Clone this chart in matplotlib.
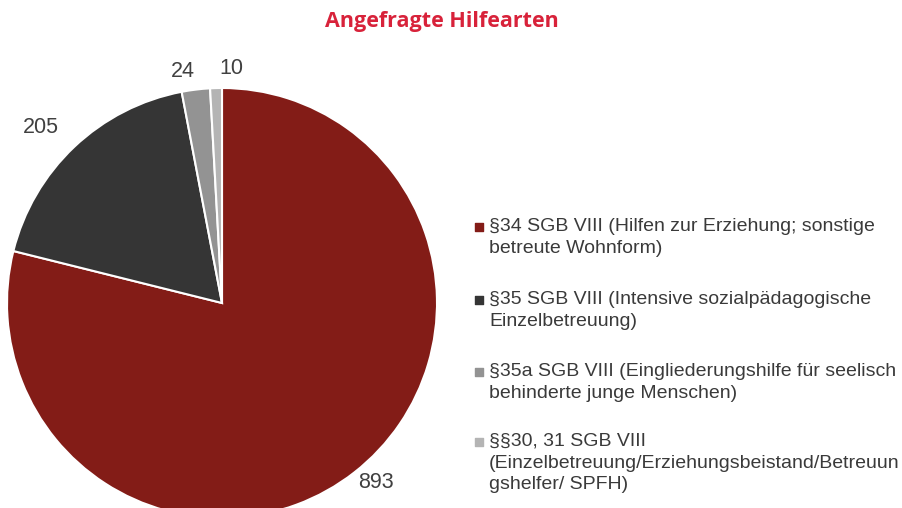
import numpy as np
import matplotlib
matplotlib.use("Agg")
import matplotlib.pyplot as plt

# Daten
werte = [893, 205, 24, 10]
kategorien = [
    "§34 SGB VIII (Hilfen zur Erziehung; sonstige\nbetreute Wohnform)",
    "§35 SGB VIII (Intensive sozialpädagogische\nEinzelbetreuung)",
    "§35a SGB VIII (Eingliederungshilfe für seelisch\nbehinderte junge Menschen)",
    "§§30, 31 SGB VIII\n(Einzelbetreuung/Erziehungsbeistand/Betreuun\ngshelfer/ SPFH)",
]
farben = ["#831c17", "#353535", "#939393", "#b4b4b4"]
titel = "Angefragte Hilfearten"

W, H = 902, 508
fig = plt.figure(figsize=(W / 100, H / 100), dpi=100)

# Kreisdiagramm (Mitte ~ (222, 303) px, Radius ~ 215 px)
cx, cy, r = 222, 303, 215
ax = fig.add_axes([(cx - r) / W, (H - cy - r) / H, 2 * r / W, 2 * r / H])
wedges, _ = ax.pie(
    werte,
    colors=farben,
    startangle=90,
    counterclock=False,
    wedgeprops=dict(edgecolor="white", linewidth=1.5),
)
ax.set_xlim(-1, 1)
ax.set_ylim(-1, 1)
ax.set_aspect("equal")
ax.axis("off")

# Werte an den Segmenten (kleine Winkelkorrektur damit 24 und 10 nicht kleben)
abstand = [1.10, 1.17, 1.09, 1.09]
versatz = [2.5, 2.5, 2.5, -3.8]
for w, v, d, dw in zip(wedges, werte, abstand, versatz):
    mitte = np.deg2rad((w.theta1 + w.theta2) / 2 + dw)
    ax.text(d * np.cos(mitte), d * np.sin(mitte), str(v),
            ha="center", va="center", fontsize=15.5,
            color="#404040", family="Liberation Sans", clip_on=False)

# Titel
fig.text(442 / W, 1 - 21 / H, titel, ha="center", va="center",
         fontsize=15.5, fontweight="bold", color="#d8223a", family="Open Sans")

# Legende (manuell, Quadrat an der ersten Zeile)
leg = fig.add_axes([0, 0, 1, 1])
leg.set_xlim(0, W)
leg.set_ylim(H, 0)
leg.axis("off")
zeilen_y = [227, 300, 372, 442]
for lab, col, y in zip(kategorien, farben, zeilen_y):
    leg.scatter([479], [y], marker="s", s=28, color=col)
    leg.text(489, y - 9, lab, ha="left", va="top", fontsize=14,
             color="#3a3a3a", family="Liberation Sans", linespacing=1.36)

fig.savefig("out.png", dpi=100)
